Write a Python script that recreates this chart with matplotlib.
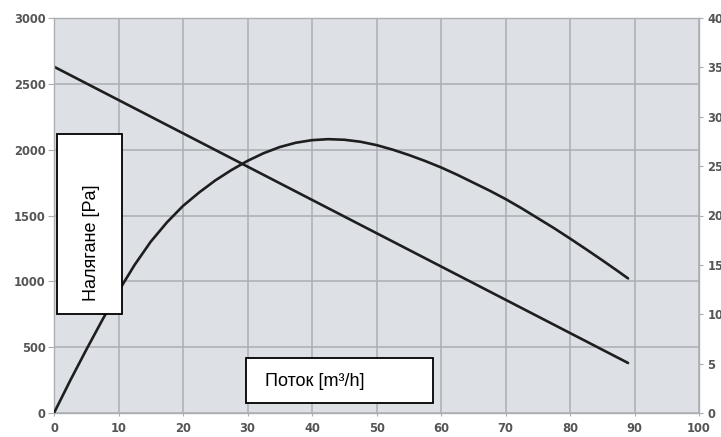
import matplotlib
matplotlib.use("Agg")
import matplotlib.pyplot as plt
from matplotlib.patches import Rectangle

# Flow values (m3/h) and readings taken from the chart
flow_line = [0, 89]
pressure_line = [2630, 380]

flow_curve = [0, 2.5, 5, 7.5, 10, 12.5, 15, 17.5, 20, 22.5, 25, 27.5, 30, 32.5,
              35, 37.5, 40, 42.5, 45, 47.5, 50, 52.5, 55, 57.5, 60, 62.5, 65,
              67.5, 70, 72.5, 75, 77.5, 80, 82.5, 85, 87.5, 89]
curve_right = [0, 3.27, 6.40, 9.43, 12.33, 15.00, 17.35, 19.30, 20.97, 22.33,
               23.55, 24.60, 25.53, 26.31, 26.93, 27.37, 27.63, 27.73, 27.67,
               27.47, 27.13, 26.67, 26.13, 25.53, 24.87, 24.13, 23.33, 22.53,
               21.67, 20.73, 19.73, 18.73, 17.67, 16.58, 15.47, 14.33, 13.63]

x_ticks = list(range(0, 101, 10))
left_ticks = list(range(0, 3001, 500))
right_ticks = list(range(0, 41, 5))

bg = "#dde1e5"
grid_col = "#abafb3"
tick_col = "#555555"
line_col = "#1e1e1e"

fig = plt.figure(figsize=(7.21, 4.37), dpi=100)
ax = fig.add_axes([54 / 721, 24 / 437, 645 / 721, 395 / 437])
ax.set_facecolor(bg)

ax.plot(flow_line, pressure_line, color=line_col, lw=1.9, solid_capstyle="round")

ax.set_xlim(0, 100)
ax.set_ylim(0, 3000)
ax.set_xticks(x_ticks)
ax.set_yticks(left_ticks)
ax.grid(True, color=grid_col, lw=1.1)
ax.set_axisbelow(True)
for s in ax.spines.values():
    s.set_color(grid_col)
    s.set_linewidth(1.0)

tick_font = dict(family="DejaVu Sans", weight="bold", size=8.3)
ax.tick_params(axis="x", colors=grid_col, length=2.5, pad=4, labelcolor=tick_col)
ax.tick_params(axis="y", colors=grid_col, length=4, pad=2, labelcolor=tick_col)
for lab in ax.get_xticklabels() + ax.get_yticklabels():
    lab.set_fontproperties(tick_font)

# second scale on the right
ax2 = ax.twinx()
ax2.plot(flow_curve, curve_right, color=line_col, lw=1.9,
         solid_capstyle="round", solid_joinstyle="round")
ax2.set_ylim(0, 40)
ax2.set_yticks(right_ticks)
ax2.tick_params(axis="y", colors=grid_col, length=3, pad=3, labelcolor=tick_col)
for lab in ax2.get_yticklabels():
    lab.set_fontproperties(tick_font)
for s in ax2.spines.values():
    s.set_visible(False)

# label boxes
txt_font = ["Liberation Sans", "DejaVu Sans"]
fig.add_artist(Rectangle((57 / 721, 123 / 437), 65 / 721, 180 / 437,
                         transform=fig.transFigure, facecolor="white",
                         edgecolor="black", lw=1.3))
fig.text(91 / 721, (437 - 243) / 437, "Налягане [Pa]", rotation=90,
         ha="center", va="center", fontsize=13, family=txt_font, color="black")

fig.add_artist(Rectangle((246 / 721, 34 / 437), 187 / 721, 45 / 437,
                         transform=fig.transFigure, facecolor="white",
                         edgecolor="black", lw=1.3))
fig.text(265 / 721, (437 - 381) / 437, "Поток [m³/h]", ha="left", va="center",
         fontsize=13, family=txt_font, color="black")

fig.savefig("out.png", dpi=100)
